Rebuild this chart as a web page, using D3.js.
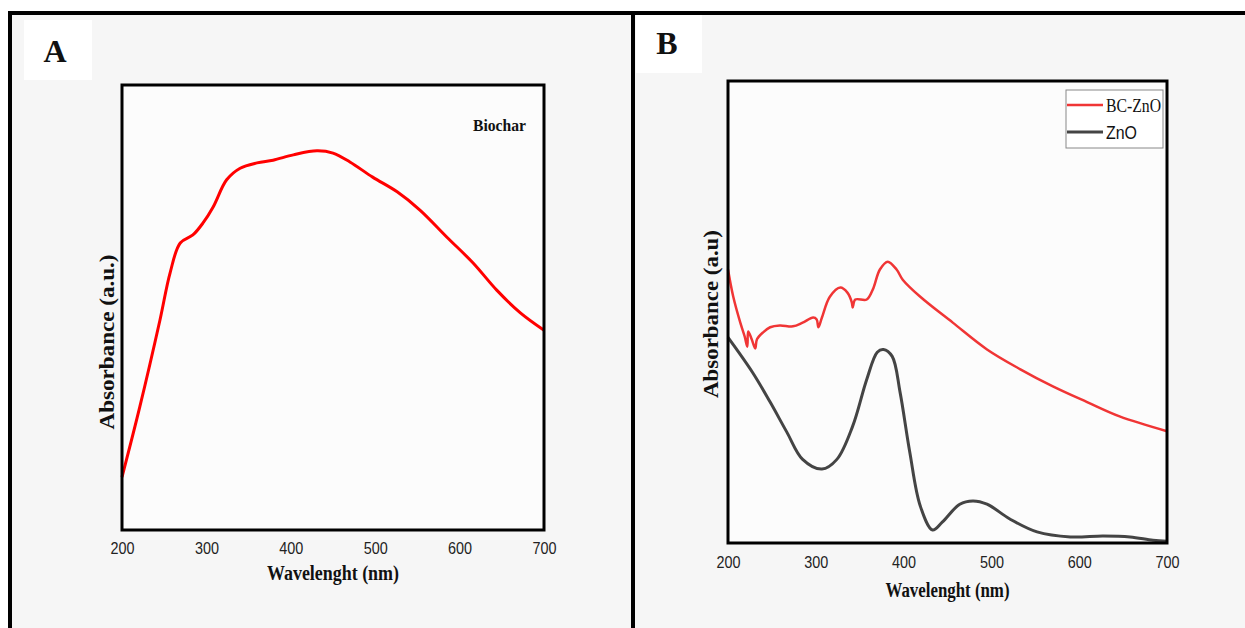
<!DOCTYPE html>
<html>
<head>
<meta charset="utf-8">
<script src="https://cdn.jsdelivr.net/npm/d3@7"></script>
<style>
  html, body { margin: 0; padding: 0; background: #fff; }
  svg { display: block; }
  .tick text { font-family: "Liberation Sans", Arial, sans-serif; font-size: 16.5px; fill: #222; }
  .ttl { font-family: "Liberation Serif", "Times New Roman", serif; font-weight: bold; fill: #111; }
</style>
</head>
<body>
<div id="chart"></div>
<script>
// panel A - biochar
var wlA = [200, 221, 245, 257, 269, 284, 296, 308, 324, 340, 360, 379, 403, 431, 450, 470, 497, 526, 553, 585, 616, 644, 672, 700];
var absA = [0.119, 0.276, 0.472, 0.578, 0.645, 0.663, 0.690, 0.726, 0.787, 0.813, 0.825, 0.831, 0.843, 0.852, 0.847, 0.827, 0.793, 0.760, 0.719, 0.658, 0.600, 0.539, 0.488, 0.449];

// panel B - BC-ZnO
var wlBC = [200, 206, 214, 219, 222, 223, 227, 231, 233, 240, 248, 259, 274, 285, 297, 301, 303, 307, 316, 328, 336, 341, 342, 345, 358, 365, 373, 382, 392, 399, 419, 456, 495, 533, 570, 609, 646, 700];
var absBC = [0.592, 0.533, 0.477, 0.447, 0.425, 0.458, 0.441, 0.421, 0.441, 0.456, 0.467, 0.471, 0.469, 0.477, 0.488, 0.484, 0.467, 0.488, 0.533, 0.553, 0.542, 0.521, 0.510, 0.527, 0.527, 0.549, 0.592, 0.609, 0.592, 0.570, 0.533, 0.477, 0.419, 0.376, 0.339, 0.305, 0.274, 0.242];

// panel B - ZnO
var wlZnO = [200, 228, 248, 267, 285, 307, 324, 342, 358, 370, 377, 387, 396, 407, 419, 433, 444, 464, 479, 495, 521, 552, 590, 627, 658, 684, 700];
var absZnO = [0.445, 0.369, 0.305, 0.240, 0.181, 0.160, 0.181, 0.253, 0.354, 0.413, 0.419, 0.404, 0.326, 0.197, 0.080, 0.028, 0.045, 0.084, 0.091, 0.084, 0.052, 0.024, 0.013, 0.015, 0.013, 0.006, 0.004];

var xTicks = [200, 300, 400, 500, 600, 700];

var W = 1245, H = 628;
var svg = d3.select("#chart").append("svg")
	.attr("width", W)
	.attr("height", H);

// page frame
svg.append("rect").attr("x", 10).attr("y", 13).attr("width", W).attr("height", H)
	.attr("fill", "#f6f6f6").attr("stroke", "#000").attr("stroke-width", 4);
svg.append("line").attr("x1", 633).attr("x2", 633).attr("y1", 13).attr("y2", H)
	.attr("stroke", "#000").attr("stroke-width", 4);

// panel letters
svg.append("rect").attr("x", 24).attr("y", 20).attr("width", 68).attr("height", 60).attr("fill", "#fff");
svg.append("rect").attr("x", 636).attr("y", 15).attr("width", 66).attr("height", 58).attr("fill", "#fff");
svg.append("text").attr("class", "ttl").attr("x", 55).attr("y", 62).attr("text-anchor", "middle")
	.style("font-size", "32px").text("A");
svg.append("text").attr("class", "ttl").attr("x", 667).attr("y", 54).attr("text-anchor", "middle")
	.style("font-size", "32px").text("B");

function panel(box, yTitle) {
	var x = d3.scaleLinear().domain([200, 700]).range([box.left, box.right]);
	var y = d3.scaleLinear().domain([0, 1]).range([box.bottom, box.top]);

	svg.append("rect")
		.attr("x", box.left).attr("y", box.top)
		.attr("width", box.right - box.left).attr("height", box.bottom - box.top)
		.attr("fill", "#fcfcfc");

	var ax = svg.append("g")
		.attr("transform", "translate(0," + box.bottom + ")")
		.call(d3.axisBottom(x).tickValues(xTicks).tickSize(0).tickPadding(box.pad).tickFormat(d3.format("d")));
	ax.select(".domain").remove();
	ax.selectAll(".tick text")
		.attr("textLength", 24)
		.attr("lengthAdjust", "spacingAndGlyphs");

	svg.append("text").attr("class", "ttl")
		.attr("x", (box.left + box.right) / 2).attr("y", box.xTitleY)
		.attr("text-anchor", "middle").style("font-size", "20px")
		.attr("textLength", box.xTitleLen).attr("lengthAdjust", "spacingAndGlyphs")
		.text("Wavelenght (nm)");

	svg.append("text").attr("class", "ttl")
		.attr("transform", "translate(" + box.yTitleX + "," + box.yTitleY + ") rotate(-90)")
		.attr("text-anchor", "middle").style("font-size", "21px")
		.attr("textLength", box.yTitleLen).attr("lengthAdjust", "spacingAndGlyphs")
		.text(yTitle);

	return { x: x, y: y };
}

function frame(box) {
	svg.append("rect")
		.attr("x", box.left).attr("y", box.top)
		.attr("width", box.right - box.left).attr("height", box.bottom - box.top)
		.attr("fill", "none").attr("stroke", "#000").attr("stroke-width", 3);
}

function drawLine(s, xs, ys, color, width, curve) {
	var line = d3.line()
		.x(function (d) { return s.x(d[0]); })
		.y(function (d) { return s.y(d[1]); })
		.curve(curve);
	svg.append("path")
		.datum(d3.zip(xs, ys))
		.attr("d", line)
		.attr("fill", "none")
		.attr("stroke", color)
		.attr("stroke-width", width)
		.attr("stroke-linejoin", "round");
}

// --- A ---
var boxA = { left: 122, right: 544, top: 85, bottom: 530, pad: 12, xTitleY: 580, xTitleLen: 132, yTitleX: 114, yTitleY: 342, yTitleLen: 175 };
var sA = panel(boxA, "Absorbance (a.u.)");
drawLine(sA, wlA, absA, "#ff0000", 3, d3.curveCatmullRom);
frame(boxA);
svg.append("text").attr("class", "ttl").attr("x", 473).attr("y", 131)
	.style("font-size", "17px").attr("textLength", 53).attr("lengthAdjust", "spacingAndGlyphs")
	.text("Biochar");

// --- B ---
var boxB = { left: 728, right: 1167, top: 81, bottom: 543, pad: 13, xTitleY: 597, xTitleLen: 124, yTitleX: 718, yTitleY: 314, yTitleLen: 168 };
var sB = panel(boxB, "Absorbance (a.u)");
drawLine(sB, wlZnO, absZnO, "#444444", 3, d3.curveCatmullRom);
drawLine(sB, wlBC, absBC, "#f03535", 2.5, d3.curveCatmullRom.alpha(0.5));
frame(boxB);

// legend
var lg = svg.append("g");
lg.append("rect").attr("x", 1066).attr("y", 90).attr("width", 97).attr("height", 58)
	.attr("fill", "#fff").attr("stroke", "#888").attr("stroke-width", 1);
lg.append("line").attr("x1", 1067).attr("x2", 1103).attr("y1", 105).attr("y2", 105)
	.attr("stroke", "#f03535").attr("stroke-width", 2.5);
lg.append("line").attr("x1", 1067).attr("x2", 1103).attr("y1", 132).attr("y2", 132)
	.attr("stroke", "#444").attr("stroke-width", 3);
lg.append("text").attr("x", 1106).attr("y", 112)
	.style("font-family", "'Liberation Serif', serif").style("font-size", "19px").attr("fill", "#111")
	.attr("textLength", 55).attr("lengthAdjust", "spacingAndGlyphs").text("BC-ZnO");
lg.append("text").attr("x", 1106).attr("y", 139)
	.style("font-family", "'Liberation Sans', sans-serif").style("font-size", "18px").attr("fill", "#111")
	.attr("textLength", 31).attr("lengthAdjust", "spacingAndGlyphs").text("ZnO");
</script>
</body>
</html>
